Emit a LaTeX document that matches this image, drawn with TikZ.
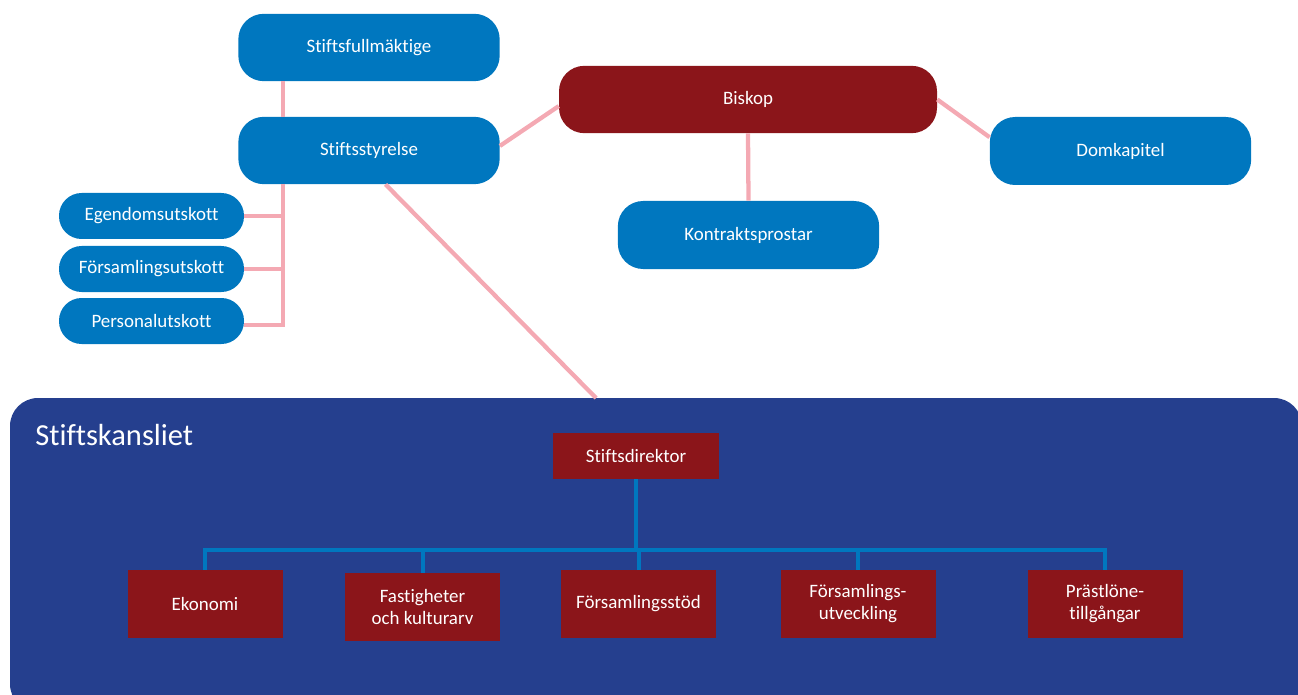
\documentclass[tikz,border=0pt]{standalone}
\usepackage{fontspec}
\setmainfont{Carlito}[Ligatures={NoCommon}]
\definecolor{kyrkblue}{RGB}{0,119,191}
\definecolor{kyrkred}{RGB}{139,21,26}
\definecolor{kansli}{RGB}{37,63,142}
\definecolor{linkpink}{RGB}{244,169,179}

\begin{document}
\begin{tikzpicture}[x=0.75pt,y=-0.75pt]

\tikzset{
  Organ/.style={fill=kyrkblue,text=white,rounded corners=19pt,inner sep=0pt,
    minimum width=196pt,minimum height=50.5pt,font=\fontsize{14.2}{16.5}\selectfont},
  Utskott/.style={Organ,rounded corners=17pt,minimum width=138.75pt,minimum height=34.5pt},
  Enhet/.style={fill=kyrkred,text=white,inner sep=0pt,align=center,
    minimum width=116.25pt,minimum height=51pt,font=\fontsize{14.2}{16.5}\selectfont},
  Pink/.style={draw=linkpink,line width=3.2pt},
  Bar/.style={draw=kyrkblue,line width=3pt}
}

  \clip (0,0) rectangle (1298,695);

  % stiftskansliet
  \fill[kansli,rounded corners=21pt] (10,398) rectangle (1302,712);
  \node[anchor=base west,text=white,inner sep=0pt,font=\fontsize{22.9}{26}\selectfont] (rubrik) at (35,445) {Stiftskansliet};

  \node[Organ] (sfm) at (369,47.5) {Stiftsfullmäktige};
  \node[Organ] (sst) at (369,150.5) {Stiftsstyrelse};
  \node[Organ,fill=kyrkred,minimum width=283.5pt] (bisk) at (748,99.5) {Biskop};
  \node[Organ,minimum height=51pt] (domk) at (1120.5,151) {Domkapitel};
  \node[Organ,minimum height=51pt] (kontr) at (748.5,235) {Kontraktsprostar};

  \node[Utskott] (u1) at (151.5,216) {Egendomsutskott};
  \node[Utskott] (u2) at (151.5,269) {Församlingsutskott};
  \node[Utskott] (u3) at (151.5,321) {Personalutskott};

  \node[Enhet,minimum width=124.5pt,minimum height=34.5pt] (dir) at (636,456) {Stiftsdirektor};

  \node[Enhet] (e1) at (205,604) {Ekonomi};
  \node[Enhet] (e2) at (422.5,607) {Fastigheter\\och kulturarv};
  \node[Enhet] (e3) at (638.5,604) {Församlingsstöd};
  \node[Enhet] (e4) at (858,604) {Församlings-\\utveckling};
  \node[Enhet] (e5) at (1105,604) {Prästlöne-\\tillgångar};

  % linjer
  \coordinate (stam) at (283,325);
  \coordinate (kt) at (596,398);
  \coordinate (tvar) at (0,550);

  \draw[Pink] (sfm.south -| stam) -- (sst.north -| stam);
  \draw[Pink] (sst.south -| stam) -- (stam) -- (stam -| u3.east);
  \draw[Pink] (u1.east) -- (u1.east -| stam);
  \draw[Pink] (u2.east) -- (u2.east -| stam);
  \draw[Pink] (sst.-64.5) -- (kt);
  \draw[Pink] (sst.2.8) -- (bisk.-178.3);
  \draw[Pink] (bisk.east) -- (domk.174);
  \draw[Pink] (bisk.south) -- (kontr.north);

  \draw[Bar] (dir.south) -- (dir.south |- tvar);
  \draw[Bar] (e1.north) -- (e1.north |- tvar) -- (e5.north |- tvar) -- (e5.north);
  \foreach \i in {2,3,4}
    \draw[Bar] (e\i.north) -- (e\i.north |- tvar);

\end{tikzpicture}
\end{document}
